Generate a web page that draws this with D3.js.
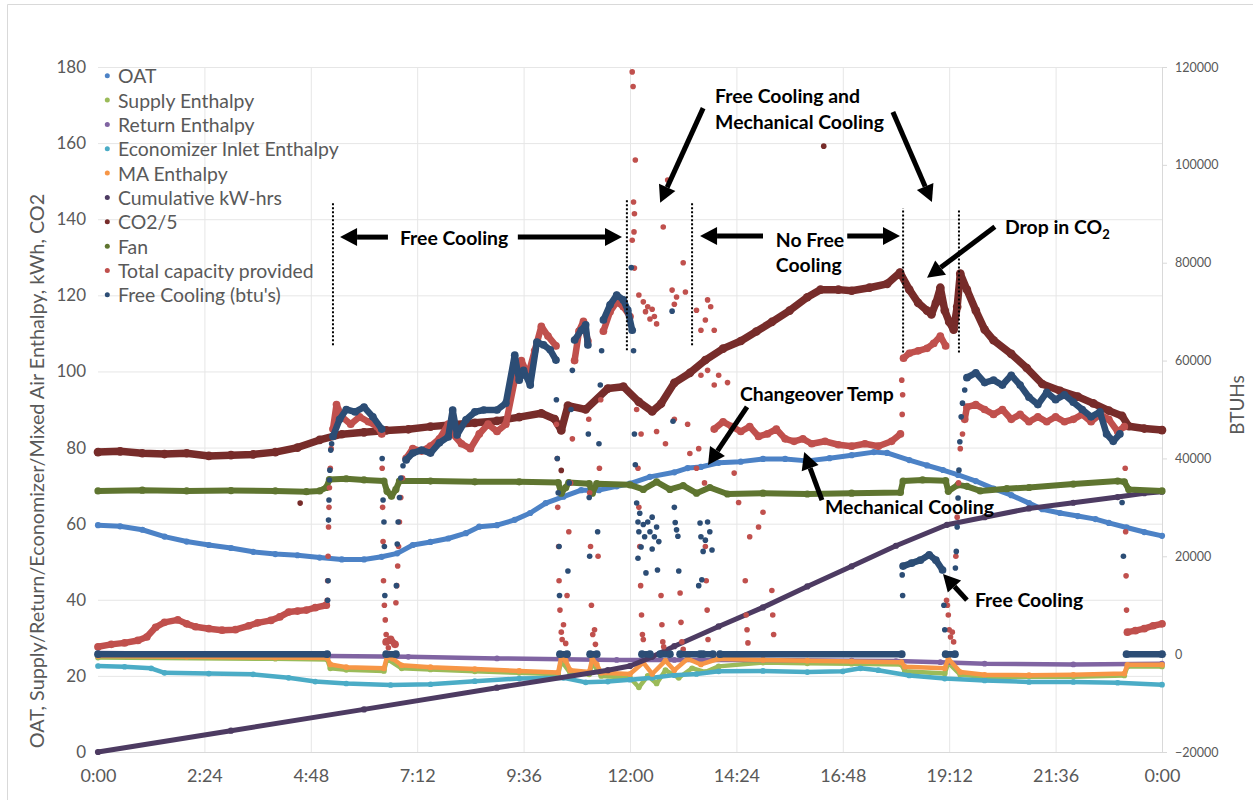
<!DOCTYPE html>
<html><head><meta charset="utf-8">
<script src="https://cdn.jsdelivr.net/npm/d3@7"></script>
<style>
body{margin:0;background:#fff;}
svg{display:block;}
text{font-family:Lato,"Open Sans",sans-serif;}
</style>
</head><body>
<svg id="c" width="1253" height="800"></svg>
<script>
// ---------------- DATA ----------------
const xTickHours = [0, 2.4, 4.8, 7.2, 9.6, 12, 14.4, 16.8, 19.2, 21.6, 24];
const xTickLabels = ["0:00","2:24","4:48","7:12","9:36","12:00","14:24","16:48","19:12","21:36","0:00"];
const leftTicks = [0,20,40,60,80,100,120,140,160,180];
const rightTicks = [-20000,0,20000,40000,60000,80000,100000,120000];
const seriesNames = ["OAT","Supply Enthalpy","Return Enthalpy","Economizer Inlet Enthalpy","MA Enthalpy","Cumulative kW-hrs","CO2/5","Fan","Total capacity provided","Free Cooling (btu's)"];

// left-axis series: [hour, value]
const oat = [[0,59.6],[0.5,59.3],[1,58.4],[1.5,56.6],[2,55.3],[2.5,54.4],[3,53.6],[3.5,52.6],[4,52.0],[4.5,51.7],[5,51.1],[5.5,50.6],[6,50.6],[6.4,51.3],[6.75,52.2],[7.1,54.4],[7.5,55.2],[7.9,56.1],[8.3,57.5],[8.6,59.2],[9.0,59.6],[9.4,61],[9.75,62.8],[10.1,65.4],[10.5,67.1],[10.9,68.8],[11.3,68.8],[11.7,69.8],[12,70.5],[12.45,72.3],[13,73.5],[13.3,74.6],[13.6,74.9],[14,76],[14.5,76.3],[15,77],[15.5,77],[16,76.5],[16.5,77.2],[17,78],[17.5,78.8],[17.8,78.6],[18.3,76.7],[18.7,75.3],[19.06,74.1],[19.4,72.8],[19.8,71.2],[20.2,69.2],[20.6,67.5],[21.0,65.4],[21.3,63.8],[21.7,62.8],[22.1,62],[22.5,61.2],[22.8,60.2],[23.2,59],[23.6,57.8],[24,56.8]];
const supplyEnthalpy = [[0,24.8],[4,24.5],[5.17,24.3],[5.24,22],[5.6,21.6],[6.45,21.3],[6.52,24.5],[6.85,22],[7.5,21.7],[8.5,21.2],[9.5,20.8],[10.38,20.4],[10.45,24],[10.65,20.8],[11.08,20.4],[11.15,23.5],[11.35,20],[12,19.5],[12.2,17],[12.4,20],[12.6,18],[12.8,21.5],[13.1,19.5],[13.4,22],[13.7,21],[14,22.5],[15,23.5],[16,23.3],[17,23.2],[18.12,23.0],[18.2,21.2],[19.1,20.6],[19.18,23.5],[19.45,20.3],[20,19.8],[22,19.8],[23.15,20.1],[23.22,22.5],[24,22.5]];
const returnEnthalpy = [[0,26.0],[2,25.8],[4,25.5],[5.2,25.2],[7,25.0],[9,24.6],[11.7,24.2],[13,24.2],[15,24.2],[17,24.0],[18,23.9],[19,23.6],[20,23.2],[22,23.0],[24,23.2]];
const economizerEnthalpy = [[0,22.6],[0.6,22.4],[1.2,22],[1.5,20.8],[2.5,20.6],[3.5,20.4],[4.3,19.5],[4.9,18.5],[5.6,18.0],[6.6,17.6],[7.5,17.8],[8.5,18.6],[9.5,19.3],[10.5,19.5],[11,18.3],[11.5,18.5],[12,19.0],[12.5,19.5],[13,20.2],[13.5,20.5],[14,21.2],[15,21.3],[16,21.0],[16.8,21.2],[17.2,22],[17.6,21.5],[18.3,20.1],[19.1,19.3],[20,18.8],[21,18.4],[22,18.4],[23,18.2],[24,17.7]];
const maEnthalpy = [[0,25.2],[2,25.0],[4,24.8],[5.17,24.7],[5.24,23],[5.6,22.3],[6.45,22.0],[6.52,25.0],[6.65,24.5],[6.85,22.8],[7.5,22.3],[8.5,21.8],[9.5,21.3],[10.38,20.9],[10.45,25],[10.55,24],[10.65,21.5],[11.08,21],[11.15,24.5],[11.25,23],[11.35,20.8],[12,20.5],[12.3,23.5],[12.5,20.5],[12.8,24],[13.0,21.5],[13.3,24.5],[13.6,23],[14,24.5],[15,24.2],[16,24],[17,23.8],[18.12,23.6],[18.2,22.4],[19.1,22.0],[19.18,24.5],[19.45,21],[20,20.3],[21,20.2],[22,20.3],[23.15,20.6],[23.22,22.9],[24,22.9]];
const cumulativeKwh = [[0,0],[3,5.6],[6,11.2],[9,16.9],[11.5,21.5],[12.0,22.6],[12.5,25],[13,27.8],[14,33],[15,38],[16,43.5],[17,48.8],[18,54.2],[19.15,59.7],[20,61.7],[21,64],[22,65.5],[23,67],[23.6,68],[24,68.4]];
const co2Div5 = [[0,78.8],[0.5,79],[1,78.5],[1.5,78.3],[2,78.5],[2.5,77.8],[3,78],[3.5,78.2],[4,78.8],[4.5,80],[5,82],[5.5,83.5],[6,84],[6.5,84.5],[7,84.8],[7.5,85.5],[8,86],[8.5,86.5],[9,87],[9.5,88],[10,89],[10.3,87.5],[10.45,84.5],[10.6,91],[11,90],[11.5,95.5],[11.85,96],[12.2,92],[12.5,89.5],[12.7,91.5],[13,97],[13.35,99.6],[13.7,103],[14.1,106],[14.5,108],[14.85,110.5],[15.2,113],[15.6,116],[16,119.5],[16.3,121.5],[16.7,121.5],[17,121.2],[17.4,122],[17.8,123],[18.09,126],[18.3,121.5],[18.5,118],[18.7,116],[18.8,115],[18.9,118],[19.0,122],[19.1,116],[19.2,113],[19.3,111],[19.38,117],[19.45,125.7],[19.6,121.5],[19.8,116],[20.0,111],[20.2,108.2],[20.6,104.6],[20.95,100.9],[21.3,96.7],[21.7,94.9],[22.1,93.4],[22.45,91.6],[22.8,89.7],[23.1,88.3],[23.25,85.6],[23.6,85],[24,84.6]];
const co2Outliers = [[4.56,65.4],[16.37,159.2],[10.45,74]];
const fan = [[0,68.6],[1,68.8],[2,68.6],[3,68.7],[4,68.6],[4.7,68.4],[5.0,68.6],[5.15,69.5],[5.22,71.6],[5.6,71.8],[6.0,71.5],[6.45,71.2],[6.52,68.5],[6.62,67.2],[6.72,69],[6.8,71.2],[7.5,71.2],[8.5,71.0],[9.5,71.0],[10.38,70.8],[10.45,68],[10.55,69.5],[10.62,70.8],[11.08,70.5],[11.15,68],[11.25,70.5],[12,70.2],[12.3,69],[12.6,71],[12.9,69],[13.2,70],[13.5,68],[13.8,69.5],[14.2,67.8],[15,68],[16,67.8],[17,68],[18.1,68.2],[18.16,71.2],[18.6,71.5],[19.12,71.3],[19.18,68.5],[19.4,70.2],[19.6,69.8],[19.9,68.6],[20.5,69.2],[21,69.5],[22,70.4],[23,71.2],[23.15,71],[23.25,69],[24,68.6]];

// right-axis series (BTUH): [hour, value], null = gap
const totalCapacity = [[0,1500],[0.3,2000],[0.6,2300],[0.9,2800],[1.1,3500],[1.3,5500],[1.5,6500],[1.8,7000],[2.0,6200],[2.2,5600],[2.5,5200],[2.8,4900],[3.1,5000],[3.4,5800],[3.6,6400],[3.9,6900],[4.1,7600],[4.3,8600],[4.5,8800],[4.7,9000],[4.9,9500],[5.15,10000],null,
 [5.3,46000],[5.38,51000],[5.5,48500],[5.7,47000],[5.9,48500],[6.1,47500],[6.3,46500],[6.4,45000],null,
 [6.5,2500],[6.6,3000],[6.7,2000],null,
 [6.95,40000],[7.1,42000],[7.3,41500],[7.5,42500],[7.7,44000],[7.9,47000],[8.0,45000],[8.2,43000],[8.4,42000],[8.6,45000],[8.8,47000],[9.0,45500],[9.2,47000],[9.4,56000],[9.55,60000],[9.7,57000],[9.85,62000],[10.0,67000],[10.15,65000],[10.33,63000],null,
 [10.75,60000],[10.85,66000],[10.95,68000],[11.05,64000],null,
 [11.4,66000],[11.55,70000],[11.7,72000],[11.85,71000],[12.0,69000],null,
 [13.9,46000],[14.1,47500],[14.3,46500],[14.5,45500],[14.7,46500],[14.9,44500],[15.1,45000],[15.3,46000],[15.5,44000],[15.7,43500],[15.9,44000],[16.1,43000],[16.4,43500],[16.7,42800],[17.0,42500],[17.3,43000],[17.6,42500],[17.9,43500],[18.1,45000],null,
 [18.17,60500],[18.3,61500],[18.5,62000],[18.7,62500],[18.85,63500],[19.0,65000],[19.12,63000],null,
 [19.55,48000],[19.6,50500],[19.8,51000],[20.0,50000],[20.2,49000],[20.4,50000],[20.6,48000],[20.8,49000],[21.0,47500],[21.2,48500],[21.4,47500],[21.6,48500],[21.8,47500],[22.0,48000],[22.2,49000],[22.4,47500],[22.6,49000],[22.8,48000],[23.0,45500],[23.15,46500],null,
 [23.22,4500],[23.4,4800],[23.6,5200],[23.8,5800],[24,6200]];
const totalCapacityDots = [[5.17,11000],[5.18,15000],[5.19,20000],[5.2,26000],[5.21,30000],[5.22,34000],[5.24,38000],[5.26,42000],
 [6.41,38000],[6.42,30000],[6.43,23000],[6.44,15000],[6.46,10000],[6.48,7000],[6.5,4000],[6.55,1300],
 [6.72,10500],[6.74,14000],[6.76,18000],[6.78,22000],[6.8,27000],[6.83,32000],[6.87,36000],
 [10.34,47000],[10.36,40000],[10.37,30000],[10.39,22000],[10.4,15000],[10.42,9000],[10.45,4500],[10.47,3000],[10.5,6000],[10.55,2200],
 [10.58,12000],[10.62,25000],[10.66,35000],[10.7,44000],
 [11.07,48000],[11.09,33000],[11.11,22000],[11.13,10000],[11.16,4000],[11.2,5000],[11.22,2000],
 [11.28,20000],[11.31,38000],[11.34,52000],
 [12.05,119000],[12.07,116000],[12.12,101000],[12.08,92400],[12.1,90000],[12.09,86300],[12.05,84600],[12.1,78900],[12.2,73400],[12.3,72000],[12.35,70000],[12.4,71000],[12.45,68500],[12.5,70500],[12.55,69000],[12.6,67500],[12.75,87300],[12.85,96900],[12.95,74400],[13.0,71500],[13.05,73000],[13.2,80000],[13.25,74000],[13.5,70300],[13.6,66200],[13.7,68300],[13.75,72400],[13.82,71000],[13.9,66200],[13.6,57000],[13.75,58000],[13.9,55000],
 [12.15,50000],[12.25,45000],[12.6,45500],[12.8,43000],[13.0,48000],[13.3,47000],[13.35,41000],[13.5,38000],[13.55,42000],[14.0,57000],[14.2,55500],[14.35,37000],[14.45,31000],[14.7,24000],[14.9,26000],[15.0,29000],
 [12.18,38000],[12.2,30000],[12.22,22000],[12.24,14000],[12.26,8000],[12.28,4000],[12.3,3000],
 [12.7,12000],[12.72,6000],[12.74,2500],[12.76,1500],
 [13.13,12500],[13.15,6500],[13.17,2500],[13.2,1000],
 [13.68,35000],[13.7,22000],[13.72,15000],[13.74,9000],[13.76,3000],
 [14.6,15000],[14.62,8000],[14.64,5000],[14.66,2300],
 [15.2,13000],[15.22,8000],[15.24,4000],
 [18.13,56000],[18.14,49000],[18.15,53000],
 [19.14,11000],[19.16,10000],[19.18,8000],[19.2,5000],[19.23,3500],[19.27,4500],[19.3,2500],
 [19.35,20000],[19.38,28000],[19.41,35000],[19.45,42000],[19.5,45000],
 [23.17,38000],[23.18,25000],[23.19,16000],[23.2,9000]];
const freeCooling = [[0,0],[5.17,0],null,
 [5.3,44500],[5.45,48000],[5.6,50000],[5.8,49500],[6.0,50500],[6.2,48500],[6.4,46000],null,
 [6.5,0],[6.72,0],null,
 [6.95,39700],[7.1,41100],[7.3,41700],[7.5,41100],[7.7,43200],[7.9,44400],[8.0,49900],[8.1,44800],[8.3,47900],[8.5,49500],[8.7,49900],[9.0,49900],[9.2,51300],[9.4,61100],[9.5,56000],[9.6,58000],[9.75,55000],[9.9,63800],[10.05,63200],[10.2,62200],[10.33,60100],null,
 [10.42,0],[10.58,0],null,
 [10.75,64200],[10.9,66200],[11.0,67300],[11.05,63200],null,
 [11.1,0],[11.25,0],null,
 [11.4,68300],[11.55,71400],[11.7,73400],[11.85,72400],[11.95,70300],[12.05,66200],null,
 [12.27,0],[12.45,0],null,
 [12.68,0],[12.9,0],null,
 [13.13,0],[13.58,0],null,
 [13.65,0],[13.87,0],null,
 [14.03,0],[18.13,0],null,
 [18.16,18000],[18.35,18600],[18.55,19200],[18.75,20300],[18.9,19200],[19.05,17200],null,
 [19.12,0],[19.33,0],null,
 [19.6,56500],[19.8,57500],[20.0,55500],[20.2,56000],[20.4,55000],[20.6,57000],[20.8,55000],[21.0,52500],[21.2,51000],[21.4,53500],[21.6,52000],[21.8,53000],[22.0,51500],[22.2,50000],[22.4,48500],[22.6,49500],[22.75,45000],[22.9,43500],[23.05,45000],null,
 [23.2,0],[24,0]];
const freeCoolingDots = [[5.18,11000],[5.19,15000],[5.2,27400],[5.21,31500],[5.22,35600],[5.23,37600],[5.25,41700],[5.27,43000],
 [6.41,40000],[6.43,31500],[6.45,27000],[6.46,22000],[6.47,12000],
 [6.73,14000],[6.75,22500],[6.77,27000],[6.8,32000],[6.83,36000],[6.88,38500],
 [10.34,52000],[10.36,40000],[10.38,33000],[10.4,22000],[10.41,12000],
 [10.6,17000],[10.63,35000],[10.67,50000],[10.7,58000],
 [11.06,45000],[11.08,32000],[11.09,20000],
 [11.27,25000],[11.3,43000],[11.33,55000],[11.36,62000],
 [12.03,79000],[12.08,62000],[12.1,45000],[12.12,38700],[12.15,30900],[12.18,27000],[12.2,25000],[12.22,28800],[12.25,21900],[12.3,26500],[12.33,24000],[12.36,16600],[12.4,27000],[12.45,25000],[12.5,21500],[12.55,24000],[12.6,26000],[12.65,23000],[12.18,19600],[12.5,28000],[12.62,17200],[12.95,70100],[12.97,47600],[13.0,30000],[13.02,26900],[13.05,25400],[13.08,24100],[13.1,17000],[13.55,14000],[13.58,26800],[13.6,24000],[13.62,15200],[13.65,21000],[13.7,23300],[13.75,27000],[13.8,25000],[13.85,21300],
 [18.14,16200],[18.15,12000],
 [19.08,10000],[19.1,5000],
 [19.34,17600],[19.36,21000],[19.38,26000],[19.4,31900],[19.42,37600],[19.44,43400],[19.47,48500],[19.5,51300],[19.55,54000],
 [23.1,31000],[23.13,20000]];

// ---------------- LAYOUT / STYLE ----------------
const W = 1253, H = 800;
const plot = {left: 98, right: 1162, top: 67, bottom: 752};
const colors = {
  oat:"#4C82C6", supply:"#9BBB59", ret:"#8064A2", econ:"#4BACC6", ma:"#F79646",
  cum:"#4D3B62", co2:"#772C2A", fan:"#5F7530", total:"#C0504D", fc:"#2C4D75"
};
const legendColors = [colors.oat, colors.supply, colors.ret, colors.econ, colors.ma, colors.cum, colors.co2, colors.fan, colors.total, colors.fc];
const textGrey = "#595959", gridGrey = "#d9d9d9";

const svg = d3.select("#c");
const x = d3.scaleLinear().domain([0,24]).range([plot.left, plot.right]);
const yL = d3.scaleLinear().domain([0,180]).range([plot.bottom, plot.top]);
const yR = d3.scaleLinear().domain([-20000,120000]).range([plot.bottom, plot.top]);

// outer frame
svg.append("path").attr("d", `M7.5,${H} V4.5 H${W}`).attr("fill","none").attr("stroke",gridGrey);

// gridlines
const gy = svg.append("g").attr("transform",`translate(${plot.left},0)`)
  .call(d3.axisLeft(yL).tickValues(leftTicks.filter(v=>v>0)).tickSize(-(plot.right-plot.left)).tickFormat(""));
gy.select(".domain").remove();
gy.selectAll("line").attr("stroke","#e6e6e6");
const gx = svg.append("g").attr("transform",`translate(0,${plot.bottom})`)
  .call(d3.axisBottom(x).tickValues(xTickHours.slice(1,-1)).tickSize(-(plot.bottom-plot.top)).tickFormat(""));
gx.select(".domain").remove();
gx.selectAll("line").attr("stroke","#e6e6e6");

// axes
const axL = svg.append("g").attr("transform",`translate(${plot.left},0)`)
  .call(d3.axisLeft(yL).tickValues(leftTicks).tickSize(0).tickPadding(12));
axL.select(".domain").remove();
axL.selectAll("text").attr("fill",textGrey).style("font-size","17px").style("font-family","Lato");

const axB = svg.append("g").attr("transform",`translate(0,${plot.bottom})`)
  .call(d3.axisBottom(x).tickValues(xTickHours).tickFormat((d,i)=>xTickLabels[i]).tickSize(0).tickPadding(17));
axB.select(".domain").attr("stroke",gridGrey);
axB.selectAll("text").attr("fill",textGrey).style("font-size","18px").style("font-family","Lato");

const axR = svg.append("g").attr("transform",`translate(${plot.right},0)`)
  .call(d3.axisRight(yR).tickValues(rightTicks).tickSize(5).tickPadding(8).tickFormat(d3.format("d")));
axR.select(".domain").attr("stroke",gridGrey);
axR.selectAll("line").attr("stroke",gridGrey);
axR.selectAll("text").attr("fill",textGrey).style("font-size","12.5px").style("font-family","Lato");

// axis titles
svg.append("text").attr("transform",`translate(36,471) rotate(-90)`)
  .attr("text-anchor","middle").attr("dominant-baseline","central")
  .attr("fill",textGrey).style("font-size","19.8px")
  .text("OAT, Supply/Return/Economizer/Mixed Air Enthalpy, kWh, CO2");
svg.append("text").attr("transform",`translate(1236,405) rotate(-90)`)
  .attr("text-anchor","middle").attr("dominant-baseline","central")
  .attr("fill",textGrey).style("font-size","19px").text("BTUHs");

// ---------------- SERIES ----------------
const lineL = d3.line().defined(d=>d!=null).x(d=>x(d[0])).y(d=>yL(d[1]));
const lineR = d3.line().defined(d=>d!=null).x(d=>x(d[0])).y(d=>yR(d[1]));

function band(data, gen, yScale, color, width){
  svg.append("path").datum(data).attr("d",gen).attr("fill","none")
    .attr("stroke",color).attr("stroke-width",width)
    .attr("stroke-linejoin","round").attr("stroke-linecap","round");
  svg.append("g").selectAll("circle").data(data.filter(d=>d!=null)).join("circle")
    .attr("cx",d=>x(d[0])).attr("cy",d=>yScale(d[1])).attr("r",width/2+0.6).attr("fill",color);
}
function dots(data, yScale, color, r){
  svg.append("g").selectAll("circle").data(data).join("circle")
    .attr("cx",d=>x(d[0])).attr("cy",d=>yScale(d[1])).attr("r",r).attr("fill",color);
}

band(oat, lineL, yL, colors.oat, 5);
band(supplyEnthalpy, lineL, yL, colors.supply, 4.5);
band(returnEnthalpy, lineL, yL, colors.ret, 4.5);
band(economizerEnthalpy, lineL, yL, colors.econ, 4.5);
band(maEnthalpy, lineL, yL, colors.ma, 4.5);
band(cumulativeKwh, lineL, yL, colors.cum, 5);
band(co2Div5, lineL, yL, colors.co2, 7.5);
dots(co2Outliers, yL, colors.co2, 2.8);
band(fan, lineL, yL, colors.fan, 6);
band(totalCapacity, lineR, yR, colors.total, 6.5);
dots(totalCapacityDots, yR, colors.total, 2.8);
band(freeCooling, lineR, yR, colors.fc, 6.5);
dots(freeCoolingDots, yR, colors.fc, 2.8);

// ---------------- LEGEND ----------------
const lg = svg.append("g");
seriesNames.forEach((name,i)=>{
  const yy = 75.7 + i*24.35;
  lg.append("circle").attr("cx",107.3).attr("cy",yy).attr("r",2.5).attr("fill",legendColors[i]);
  lg.append("text").attr("x",118).attr("y",yy).attr("dominant-baseline","central")
    .attr("fill",textGrey).style("font-size","19.4px").text(name);
});

// ---------------- ANNOTATIONS (data coords: hour, left-axis value) ----------------
const dottedLines = [[5.30,106.9,144.3],[11.93,105.6,145.0],[13.40,106.9,144.5],[18.16,105.0,142.9],[19.42,105.0,142.4]];
const arrows = [
  [6.54,135.3,5.46,135.3],[9.47,135.3,11.82,135.3],
  [13.65,169.2,12.68,144.3],[17.93,168.2,18.81,144.5],
  [15.0,135.6,13.58,135.6],[16.9,135.6,18.09,135.6],
  [20.23,138.0,18.70,124.6],[14.64,90.7,13.76,75.4],
  [16.33,66.2,15.93,78.8],[19.6,39.9,19.06,46.8]
];
const labels = [
  ["Free Cooling",6.81,135.3],["Free Cooling and",13.92,172.6],["Mechanical Cooling",13.92,165.8],
  ["No Free",15.29,134.8],["Cooling",15.29,128.2],["Changeover Temp",14.48,94.3],
  ["Mechanical Cooling",16.4,64.4],["Free Cooling",19.78,40.2]
];
const an = svg.append("g");
dottedLines.forEach(([t,v0,v1])=>{
  an.append("line").attr("x1",x(t)).attr("x2",x(t)).attr("y1",yL(v0)).attr("y2",yL(v1))
    .attr("stroke","#000").attr("stroke-width",2).attr("stroke-dasharray","2,2");
});
arrows.forEach(([t0,v0,t1,v1])=>{
  const x0=x(t0), y0=yL(v0), x1=x(t1), y1=yL(v1);
  const ang = Math.atan2(y1-y0, x1-x0), L=17, hw=9;
  const bx = x1 - L*Math.cos(ang), by = y1 - L*Math.sin(ang);
  an.append("line").attr("x1",x0).attr("y1",y0).attr("x2",bx).attr("y2",by)
    .attr("stroke","#000").attr("stroke-width",5);
  const px = -Math.sin(ang), py = Math.cos(ang);
  an.append("path").attr("d",`M${x1},${y1}L${bx+px*hw},${by+py*hw}L${bx-px*hw},${by-py*hw}Z`).attr("fill","#000");
});
labels.forEach(([s,t,v])=>{
  an.append("text").attr("x",x(t)).attr("y",yL(v)).attr("dominant-baseline","central")
    .attr("fill","#000").style("font-size","19.4px").style("font-weight","bold").text(s);
});
const dt = an.append("text").attr("x",x(20.46)).attr("y",yL(138.2)).attr("dominant-baseline","central")
  .attr("fill","#000").style("font-size","19.4px").style("font-weight","bold");
dt.append("tspan").text("Drop in CO");
dt.append("tspan").attr("baseline-shift","sub").style("font-size","13px").text("2");
</script>
</body></html>
